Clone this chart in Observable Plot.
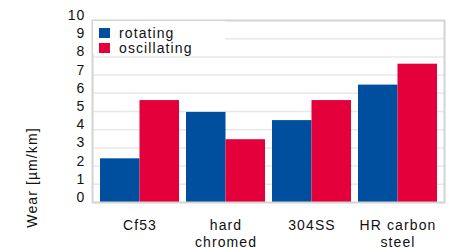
<!DOCTYPE html>
<html>
<head>
<meta charset="utf-8">
<script src="https://cdn.jsdelivr.net/npm/d3@7"></script>
<script src="https://cdn.jsdelivr.net/npm/@observablehq/plot@0.6"></script>
<style>
  html, body { margin: 0; padding: 0; background: #fff; }
  #wrap { position: relative; width: 451px; height: 249px; font-family: "Liberation Sans", Arial, Helvetica, sans-serif; }
  #wrap svg text { letter-spacing: 1.1px; }
  #legend { position: absolute; left: 93px; top: 21px; width: 132px; height: 33px; background: #fff; font-size: 14px; letter-spacing: 1.1px; color: #111; }
  .item { position: absolute; left: 6px; height: 11px; display: flex; align-items: center; white-space: nowrap; }
  .sw { width: 11px; height: 10px; margin-right: 9px; }
</style>
</head>
<body>
<div id="wrap"></div>
<script>
const categories = ["Cf53", "hard\nchromed", "304SS", "HR carbon\nsteel"];
const series = ["rotating", "oscillating"];
const rotating = [2.4, 4.95, 4.5, 6.45];
const oscillating = [5.6, 3.45, 5.6, 7.6];
const colors = ["#004f9e", "#e4003a"];
const yTicks = [0, 1, 2, 3, 4, 5, 6, 7, 8, 9, 10];
const gridTicks = [1, 2, 3, 4, 5, 6, 7, 8, 9];
const yLabel = "Wear [µm/km]";

const rotData = categories.map((c, i) => ({category: c, series: series[0], value: rotating[i]}));
const oscData = categories.map((c, i) => ({category: c, series: series[1], value: oscillating[i]}));

function options(bw) {
  return {
    width: 451,
    height: 249,
    marginLeft: 92,
    marginRight: 7,
    marginTop: 20,
    marginBottom: 47,
    style: {fontFamily: "'Liberation Sans', Arial, Helvetica, sans-serif", fontSize: "14px", color: "#111", background: "#fff"},
    x: {domain: categories, paddingInner: 0.08, paddingOuter: 0, insetLeft: 7, insetRight: 6, label: null},
    y: {domain: [0, 10], label: null},
    color: {domain: series, range: colors},
    marks: [
      Plot.ruleY(gridTicks, {stroke: "#e8e8e8", strokeWidth: 1.5}),
      Plot.barY(rotData, {x: "category", y: "value", fill: "series", insetRight: bw / 2}),
      Plot.barY(oscData, {x: "category", y: "value", fill: "series", insetLeft: bw / 2}),
      Plot.frame({stroke: "#d3d3d3", strokeWidth: 2}),
      Plot.axisX({tickSize: 0, tickPadding: 16, lineHeight: 1.2, label: null}),
      Plot.axisY({ticks: yTicks, tickSize: 0, tickPadding: 7, dy: -5, label: null}),
      Plot.text([yLabel], {text: d => d, frameAnchor: "bottom-left", rotate: -90, dx: -60, dy: -25, textAnchor: "middle", lineAnchor: "middle"})
    ]
  };
}

const first = Plot.plot(options(0));
const bw = first.scale("x").bandwidth;
const chart = Plot.plot(options(bw));
const wrap = document.getElementById("wrap");
wrap.appendChild(chart);

const legend = document.createElement("div");
legend.id = "legend";
series.forEach((s, i) => {
  const item = document.createElement("div");
  item.className = "item";
  item.style.top = (6.3 + i * 15.4) + "px";
  const sw = document.createElement("span");
  sw.className = "sw";
  sw.style.background = colors[i];
  const label = document.createElement("span");
  label.textContent = s;
  item.appendChild(sw);
  item.appendChild(label);
  legend.appendChild(item);
});
wrap.appendChild(legend);
</script>
</body>
</html>
